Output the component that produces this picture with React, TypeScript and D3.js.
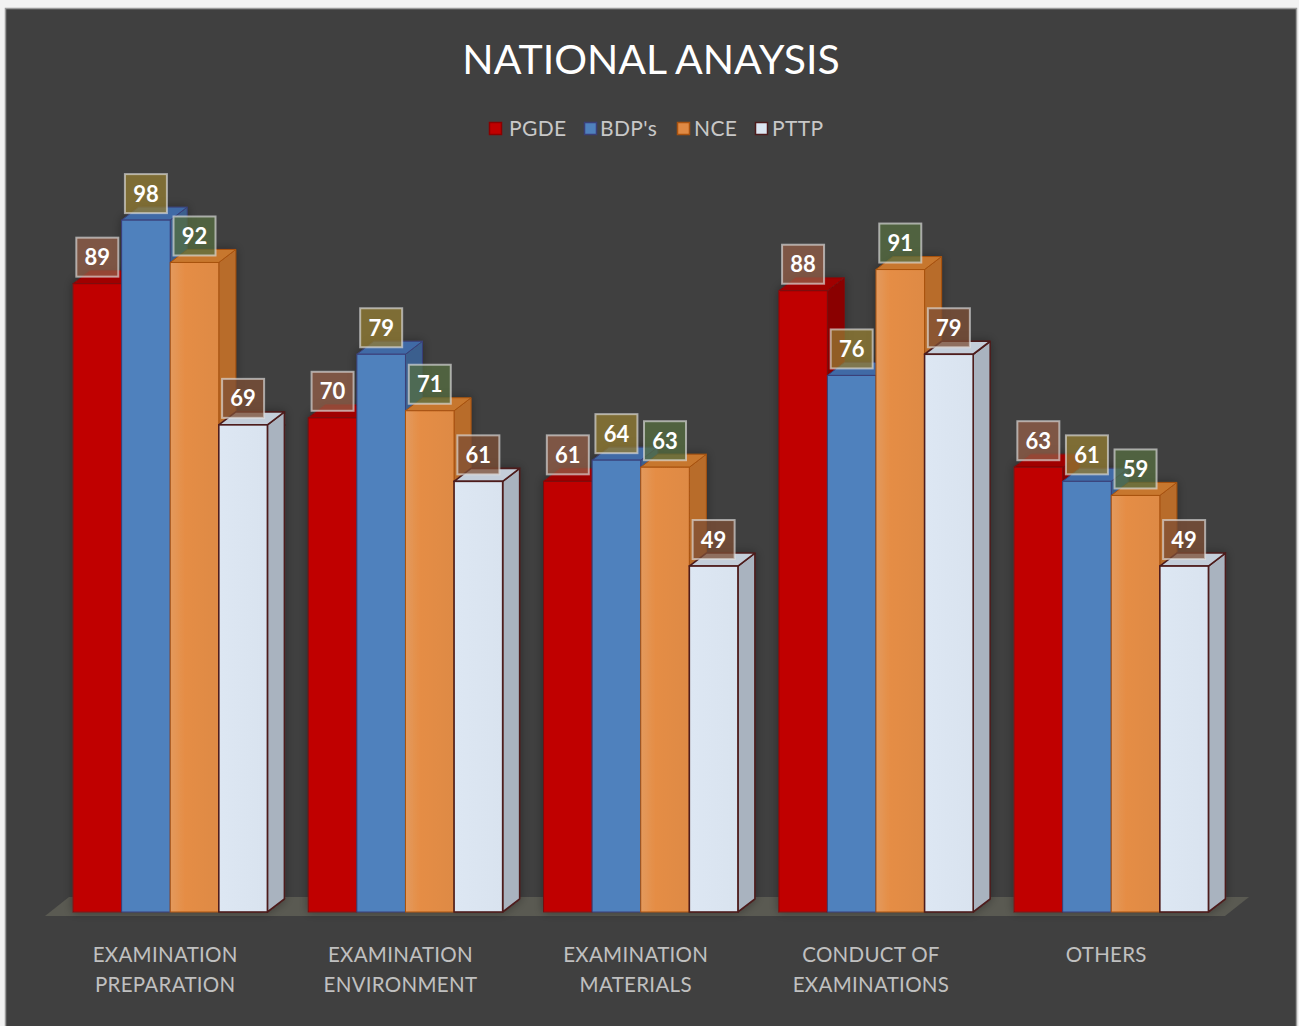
import React from "react";
import * as d3 from "d3";

const categories = ["EXAMINATION PREPARATION", "EXAMINATION ENVIRONMENT", "EXAMINATION MATERIALS", "CONDUCT OF EXAMINATIONS", "OTHERS"];
const categoryLines = [["EXAMINATION", "PREPARATION"], ["EXAMINATION", "ENVIRONMENT"], ["EXAMINATION", "MATERIALS"], ["CONDUCT OF", "EXAMINATIONS"], ["OTHERS"]];
const seriesNames = ["PGDE", "BDP's", "NCE", "PTTP"];
const pgde = [89, 70, 61, 88, 63];
const bdp = [98, 79, 64, 76, 61];
const nce = [92, 71, 63, 91, 59];
const pttp = [69, 61, 49, 79, 49];
const seriesValues = [pgde, bdp, nce, pttp];

const faceColors = [
  { front: "#c00000", top: "#a00000", side: "#8a0000", edge: "#7a1010", legend: "#c00000", legendEdge: "#8a0000" },
  { front: "#4f81bd", top: "#3f6aa6", side: "#3b5f8e", edge: "#3a3f78", legend: "#4f81bd", legendEdge: "#3a3f78" },
  { front: "#e08a44", top: "#c7772f", side: "#b86c2c", edge: "#a8520f", legend: "#e08a44", legendEdge: "#a8520f" },
  { front: "#dce6f2", top: "#c4ceda", side: "#a9b3bf", edge: "#4d1c1c", legend: "#dce6f2", legendEdge: "#4d1c1c" },
];
const labelFills = ["rgba(147,94,71,0.75)", "rgba(147,124,49,0.75)", "rgba(86,110,64,0.75)", "rgba(126,79,53,0.75)"];

const W = 1299;
const H = 1026;
const DX = 17;
const DY = -13;
const FONT = "Lato, 'Open Sans', sans-serif";

export default function App() {
  const x0 = d3.scaleBand<string>().domain(categories).range([52.6, 1228.85]).paddingInner(0.1737).paddingOuter(0.0868);
  const x1 = d3.scaleBand<string>().domain(seriesNames).range([0, x0.bandwidth()]).padding(0);
  const y = d3.scaleLinear().domain([0, 100]).range([912, 206]);
  const bw = x1.bandwidth();

  const bars: React.ReactNode[] = [];
  const labels: React.ReactNode[] = [];
  categories.forEach((cat, ci) => {
    seriesNames.forEach((s, si) => {
      const v = seriesValues[si][ci];
      const xl = (x0(cat) as number) + (x1(s) as number);
      const xr = xl + bw;
      const yt = y(v);
      const yb = y(0);
      const c = faceColors[si];
      const sw = si === 3 ? 1.6 : 1;
      const top = d3.path();
      top.moveTo(xl, yt); top.lineTo(xl + DX, yt + DY); top.lineTo(xr + DX, yt + DY); top.lineTo(xr, yt); top.closePath();
      const side = d3.path();
      side.moveTo(xr, yt); side.lineTo(xr + DX, yt + DY); side.lineTo(xr + DX, yb + DY); side.lineTo(xr, yb); side.closePath();
      bars.push(
        <g key={`b-${ci}-${si}`}>
          <path d={side.toString()} fill={c.side} stroke={c.edge} strokeWidth={sw} strokeLinejoin="round" />
          <path d={top.toString()} fill={c.top} stroke={c.edge} strokeWidth={sw} strokeLinejoin="round" />
          <rect x={xl} y={yt} width={bw} height={yb - yt} fill={si === 2 ? "url(#nceGrad)" : si === 3 ? "url(#ptGrad)" : c.front} stroke={c.edge} strokeWidth={sw} />
        </g>
      );
      const cx = xl + bw / 2;
      const bh = 39;
      const bwid = 42;
      labels.push(
        <g key={`l-${ci}-${si}`}>
          <rect x={cx - bwid / 2} y={yt - 7 - bh} width={bwid} height={bh} fill={labelFills[si]} stroke="rgba(225,225,225,0.65)" strokeWidth={2} />
          <text x={cx} y={yt - 7 - bh / 2 + 8} textAnchor="middle" fill="#ffffff" fontFamily={FONT} fontWeight={700} fontSize={22}>{v}</text>
        </g>
      );
    });
  });

  const legendItems = [
    { sq: 489, tx: 509 },
    { sq: 584, tx: 600 },
    { sq: 677, tx: 694 },
    { sq: 755, tx: 772 },
  ];

  return (
    <svg width={W} height={H} style={{ position: "absolute", left: 0, top: 0 }}>
      <defs>
        <linearGradient id="nceGrad" x1="0" x2="1" y1="0" y2="0">
          <stop offset="0" stopColor="#e39a5e" />
          <stop offset="0.3" stopColor="#e58d45" />
          <stop offset="1" stopColor="#de8a44" />
        </linearGradient>
        <linearGradient id="ptGrad" x1="0" x2="1" y1="0" y2="0">
          <stop offset="0" stopColor="#dde7f3" />
          <stop offset="1" stopColor="#d9e3ef" />
        </linearGradient>
        <filter id="glow" x="-20%" y="-20%" width="140%" height="140%">
          <feDropShadow dx="0" dy="0" stdDeviation="5" floodColor="#000" floodOpacity="0.35" />
        </filter>
      </defs>
      <rect x={0} y={0} width={W} height={H} fill="#f2f2f2" />
      <rect x={5.5} y={8.5} width={1291} height={1030} fill="#404040" stroke="#9a9a9a" strokeWidth={1.5} />
      <text x={651} y={74} textAnchor="middle" fill="#ffffff" fontFamily={FONT} fontSize={41}>NATIONAL ANAYSIS</text>
      {seriesNames.map((s, i) => (
        <g key={`lg-${i}`}>
          <rect x={legendItems[i].sq + 0.5} y={122.5} width={12} height={12} fill={faceColors[i].legend} stroke={faceColors[i].legendEdge} strokeWidth={1.5} />
          <text x={legendItems[i].tx} y={136} fill="#c8c8c8" fontFamily={FONT} fontSize={21} letterSpacing={0.4}>{s}</text>
        </g>
      ))}
      <path d="M45,916 L1225,916 L1249,897 L69,897 Z" fill="#5a5a52" />
      <g filter="url(#glow)">{bars}</g>
      {labels}
      {categories.map((cat, ci) => {
        const cx = (x0(cat) as number) + x0.bandwidth() / 2 - 5;
        return (
          <text key={`c-${ci}`} x={cx} y={962} textAnchor="middle" fill="#c0c0c0" fontFamily={FONT} fontSize={20.5} letterSpacing={0.3}>
            {categoryLines[ci].map((ln, li) => (
              <tspan key={li} x={cx} dy={li === 0 ? 0 : 30}>{ln}</tspan>
            ))}
          </text>
        );
      })}
    </svg>
  );
}
